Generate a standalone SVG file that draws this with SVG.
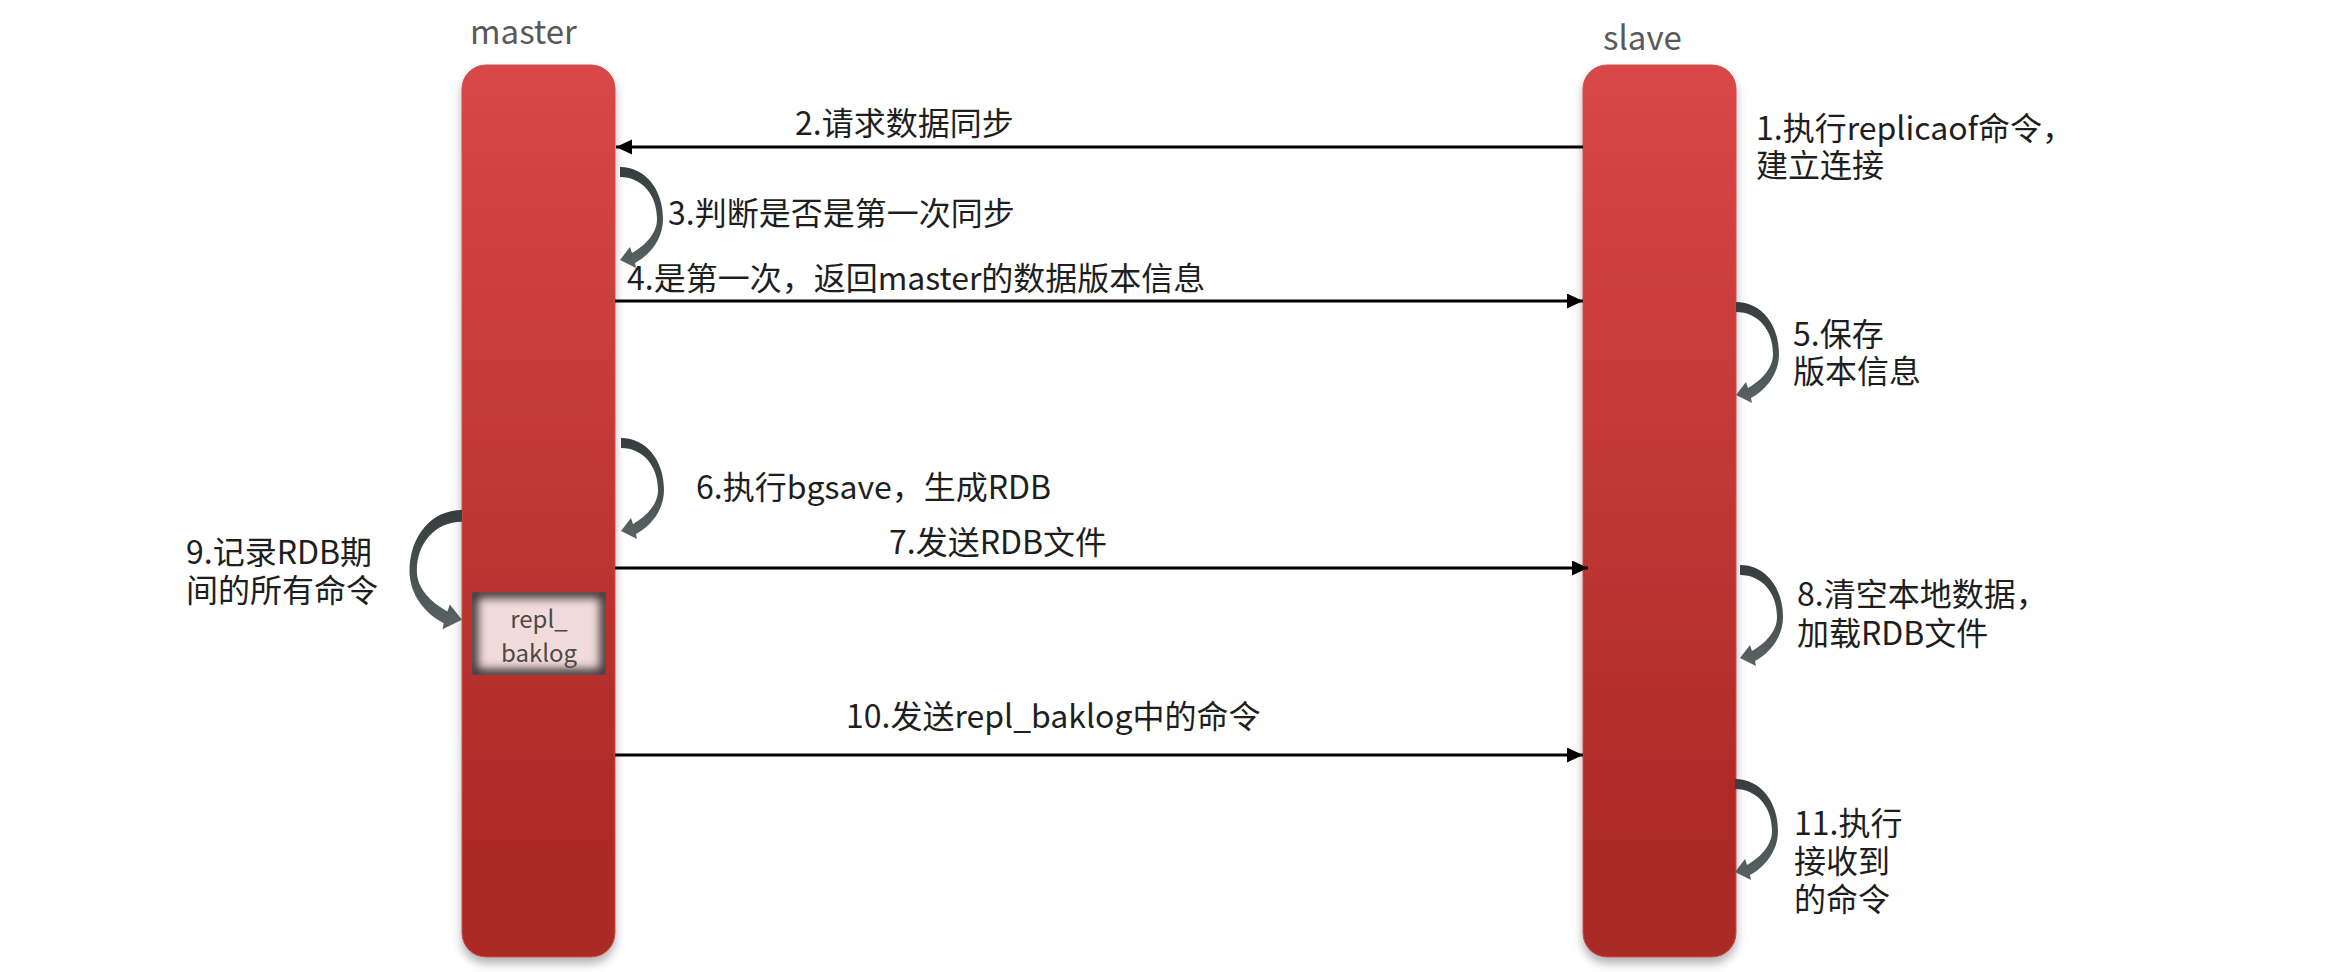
<svg xmlns="http://www.w3.org/2000/svg" xmlns:xlink="http://www.w3.org/1999/xlink" width="2328" height="972" viewBox="0 0 2328 972">
  <style>
    .t { font-family: "Noto Sans CJK SC", "Noto Sans", sans-serif; font-size: 32px; fill: #1e1e1e; }
    .lbl { font-family: "Noto Sans CJK SC", "Noto Sans", sans-serif; font-size: 33px; fill: #595959; }
    .box { font-family: "Noto Sans CJK SC", "Noto Sans", sans-serif; font-size: 24px; fill: #4a4a4a; text-anchor: middle; }
    .bar { fill: url(#barGrad); stroke: #c9504e; stroke-width: 1; filter: url(#shadow); }
    .conn { stroke: #000; stroke-width: 3; fill: none; marker-end: url(#ah); }
    .curve { fill: url(#curveGrad); }
  </style>
  <defs>
    <linearGradient id="barGrad" x1="0" y1="0" x2="0" y2="1">
      <stop offset="0" stop-color="#d94747"/>
      <stop offset="0.5" stop-color="#bf3633"/>
      <stop offset="0.85" stop-color="#ad2a27"/>
      <stop offset="1" stop-color="#aa2926"/>
    </linearGradient>
    <linearGradient id="curveGrad" x1="0" y1="0" x2="0" y2="1">
      <stop offset="0" stop-color="#353d3d"/>
      <stop offset="1" stop-color="#5a6363"/>
    </linearGradient>
    <filter id="shadow" x="-20%" y="-5%" width="140%" height="112%">
      <feDropShadow dx="0" dy="6" stdDeviation="5" flood-color="#000" flood-opacity="0.3"/>
    </filter>
    <filter id="blur" x="-30%" y="-30%" width="160%" height="160%">
      <feGaussianBlur stdDeviation="5"/>
    </filter>
    <clipPath id="boxClip">
      <rect x="472" y="592" width="134" height="83"/>
    </clipPath>
    <marker id="ah" markerUnits="userSpaceOnUse" markerWidth="17" markerHeight="16" refX="16" refY="7.5" orient="auto">
      <path d="M0,0 L16,7.5 L0,15 Z" fill="#000"/>
    </marker>
    <path id="crv" d="M0,0 C25,0 43,22 43,52 C43,72 30,88 15,96 L16,101 L0,93 L10,80 L12,86 C26,78 37,66 37,52 C37,28 22,10 0,10 Z"/>
  </defs>

  <g id="master">
    <rect class="bar" x="462" y="65" width="153" height="892" rx="24" ry="24"/>
    <text class="lbl" x="470" y="44">master</text>
  </g>

  <g id="slave">
    <rect class="bar" x="1583" y="65" width="153" height="892" rx="24" ry="24"/>
    <text class="lbl" x="1603" y="50">slave</text>
  </g>

  <g id="repl_baklog">
    <g clip-path="url(#boxClip)">
      <rect x="472" y="592" width="134" height="83" fill="#f2dcdb"/>
      <rect x="472" y="592" width="134" height="83" fill="none" stroke="#3d3232" stroke-width="12" filter="url(#blur)"/>
    </g>
    <text class="box" x="539" y="628">repl_</text>
    <text class="box" x="539" y="662">baklog</text>
  </g>

  <g id="connectors">
    <line class="conn" x1="1583" y1="147" x2="616" y2="147"/>
    <line class="conn" x1="615" y1="301" x2="1583" y2="301"/>
    <line class="conn" x1="615" y1="568" x2="1588" y2="568"/>
    <line class="conn" x1="615" y1="755" x2="1583" y2="755"/>
    <use href="#crv" class="curve" transform="translate(620,167)"/>
    <use href="#crv" class="curve" transform="translate(621,438)"/>
    <use href="#crv" class="curve" transform="translate(1736,302)"/>
    <use href="#crv" class="curve" transform="translate(1740,565)"/>
    <use href="#crv" class="curve" transform="translate(1735,779)"/>
    <use href="#crv" class="curve" transform="translate(462,510) scale(-1.22,1.18)"/>
  </g>

  <g id="labels">
    <text class="t" x="795" y="135">2.请求数据同步</text>
    <text class="t" x="668" y="225">3.判断是否是第一次同步</text>
    <text class="t" x="627" y="290">4.是第一次，返回master的数据版本信息</text>
    <text class="t" x="1756" y="140">1.执行replicaof命令，<tspan x="1756" dy="37">建立连接</tspan></text>
    <text class="t" x="1793" y="346">5.保存<tspan x="1793" dy="37">版本信息</tspan></text>
    <text class="t" x="696" y="499">6.执行bgsave，生成RDB</text>
    <text class="t" x="889" y="554">7.发送RDB文件</text>
    <text class="t" x="186" y="564">9.记录RDB期<tspan x="186" dy="38">间的所有命令</tspan></text>
    <text class="t" x="1797" y="606">8.清空本地数据，<tspan x="1797" dy="39">加载RDB文件</tspan></text>
    <text class="t" x="846" y="728">10.发送repl_baklog中的命令</text>
    <text class="t" x="1794" y="835">11.执行<tspan x="1794" dy="38">接收到</tspan><tspan x="1794" dy="38">的命令</tspan></text>
  </g>
</svg>
